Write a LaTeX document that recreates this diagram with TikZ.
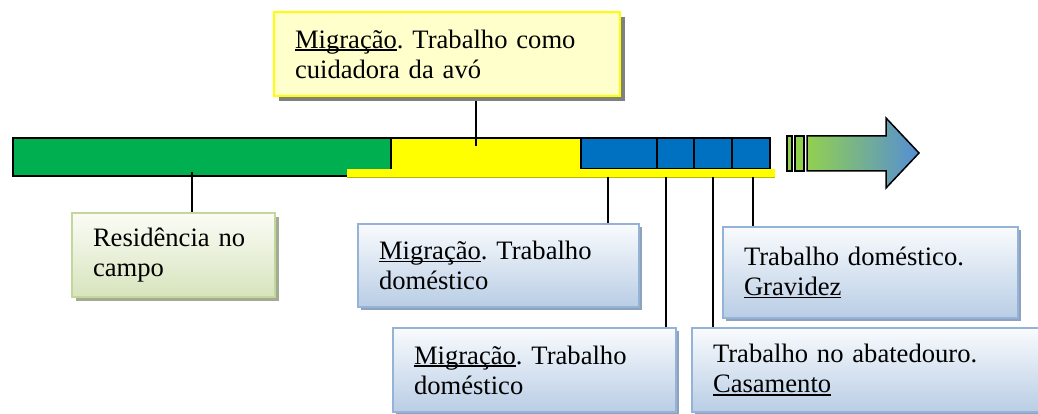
\documentclass[tikz,border=0pt]{standalone}
\usepackage{fontspec}
\setmainfont{Liberation Serif}
\usetikzlibrary{shadows}
\definecolor{barg}{HTML}{00B050}
\definecolor{barb}{HTML}{0070C0}
\definecolor{bary}{HTML}{FFFF00}
\definecolor{arrg}{HTML}{92D050}
\definecolor{arrb}{HTML}{558ED5}
\definecolor{topfill}{HTML}{FFFFCC}
\definecolor{blutop}{HTML}{F9FBFD}
\definecolor{blubot}{HTML}{B9CDE5}
\definecolor{bluline}{HTML}{95B3D7}
\definecolor{blushad}{HTML}{8EA2BD}
\definecolor{grntop}{HTML}{FBFCF6}
\definecolor{grnbot}{HTML}{D7E4BD}
\definecolor{grnline}{HTML}{C3D69B}
\definecolor{grnshad}{HTML}{A3AC93}
\definecolor{stripline}{HTML}{B8B800}
\newcommand\myul[1]{\leavevmode\setbox0\hbox{#1}\rlap{\rule[-2.6pt]{\wd0}{1.3pt}}#1}
\frenchspacing
\pgfdeclarelayer{bg}
\pgfsetlayers{bg,main}
\tikzset{
  txt/.style={font=\fontsize{26.6}{30}\selectfont\frenchspacing, align=left, inner xsep=21pt, inner ysep=0pt},
  bluebox/.style={txt, shade, top color=blutop, bottom color=blubot, draw=bluline, line width=2pt,
    drop shadow={shadow xshift=3pt, shadow yshift=-3pt, fill=blushad, opacity=1}},
  greenbox/.style={txt, shade, top color=grntop, bottom color=grnbot, draw=grnline, line width=2pt,
    drop shadow={shadow xshift=4pt, shadow yshift=-4pt, fill=grnshad, opacity=1}},
  yellowbox/.style={txt, fill=topfill, draw=bary, line width=2pt,
    drop shadow={shadow xshift=5pt, shadow yshift=-5pt, fill=gray, opacity=1}},
  conn/.style={draw=black, line width=2pt},
  seg/.style={draw=black, line width=2pt},
}
\begin{document}
\begin{tikzpicture}[x=1pt,y=-1pt]
\useasboundingbox (0,0) rectangle (1038,414);

% boxes
\node[yellowbox, text width=304pt, minimum height=84pt] (top) at (447,54)
  {\myul{Migração}. Trabalho como\\cuidadora da avó};
\node[greenbox, text width=161pt, minimum height=84pt] (gbox) at (173.5,255)
  {Residência no\\campo};
\node[bluebox, text width=239pt, minimum height=83pt] (b1) at (498.5,265.5)
  {\myul{Migração}. Trabalho\\doméstico};
\node[bluebox, text width=241pt, minimum height=84pt] (b2) at (534.5,370)
  {\myul{Migração}. Trabalho\\doméstico};
\node[bluebox, text width=253pt, minimum height=91pt] (b3) at (870.5,272.5)
  {Trabalho doméstico.\\\myul{Gravidez}};
\node[bluebox, text width=326pt, minimum height=84pt] (b4) at (876,370)
  {Trabalho no abatedouro.\\\myul{Casamento}};

\begin{pgfonlayer}{bg}
% timeline bar
\filldraw[seg, fill=barg] (13,138) rectangle (391,176);
\filldraw[seg, fill=bary] (391,138) rectangle (581,176);
\foreach \a/\b in {581/657,657/694,694/732,732/770}
  \filldraw[seg, fill=barb] (\a,138) rectangle (\b,169);
\fill[bary] (347,169) rectangle (775,177);
\draw[stripline, line width=0.8pt] (347,177) -- (775,177);
% break marks and arrow
\filldraw[fill=arrg, draw=black, line width=1.5pt] (787,136) rectangle (792,171);
\filldraw[fill=arrg, draw=black, line width=1.5pt] (795,136) rectangle (804,171);
\shadedraw[left color=arrg, right color=arrb, draw=black, line width=1.5pt]
  (807,136) -- (886,136) -- (886,118) -- (919,153) -- (886,188) -- (886,171) -- (807,171) -- cycle;
% connector points on the bar
\coordinate (p0) at (476,146);
\coordinate (p1) at (192,172);
\coordinate (p2) at (608,177);
\coordinate (p3) at (666,177);
\coordinate (p4) at (713,177);
\coordinate (p5) at (753,177);
\draw[conn] (top.south -| p0) -- (p0);
\draw[conn] (p1) -- (p1 |- gbox.north);
\draw[conn] (p2) -- (p2 |- b1.north);
\draw[conn] (p3) -- (p3 |- b2.north);
\draw[conn] (p4) -- (p4 |- b4.north);
\draw[conn] (p5) -- (p5 |- b3.north);
\end{pgfonlayer}
\end{tikzpicture}
\end{document}
